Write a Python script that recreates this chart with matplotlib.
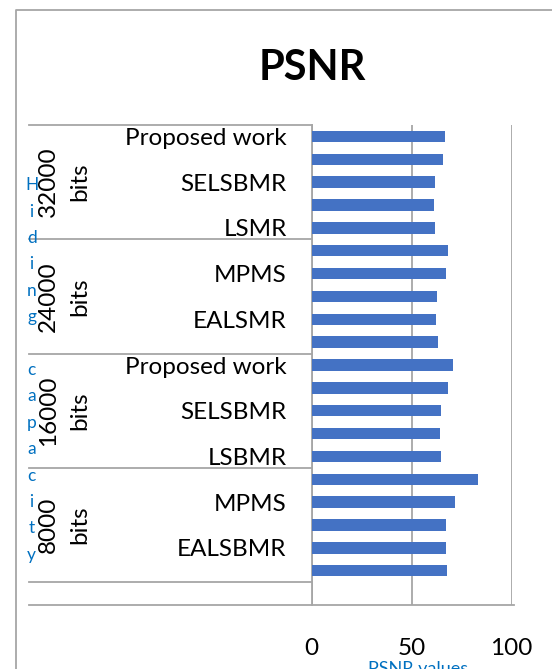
import numpy as np
import matplotlib
matplotlib.use("Agg")
import matplotlib.pyplot as plt
import matplotlib.transforms as mtransforms
from matplotlib.lines import Line2D

plt.rcParams['font.family'] = ['Lato', 'DejaVu Sans']

# Hiding capacity groups, bottom group first
groups = ["8000 bits", "16000 bits", "24000 bits", "32000 bits"]
# methods inside each group, bottom to top
methods = [
    ["LSBMR", "EALSBMR", "SELSBMR", "MPMS", "Proposed work"],
    ["LSBMR", "EALSBMR", "SELSBMR", "MPMS", "Proposed work"],
    ["LSMR", "EALSMR", "SELSBMR", "MPMS", "Proposed work"],
    ["LSMR", "EALSMR", "SELSBMR", "MPMS", "Proposed work"],
]
# PSNR values, same order as methods
psnr = [
    [67.5, 67.2, 67.2, 71.8, 83.0],
    [64.7, 64.2, 64.5, 68.0, 70.5],
    [63.0, 62.3, 62.8, 67.2, 68.3],
    [61.7, 61.0, 61.5, 65.8, 66.7],
]

BAR = '#4472C4'
GRID = '#A6A6A6'
BLUE = '#0070C0'
FS = 17.5

# one empty category at the bottom, then the grouped rows
labels = [""] + [m for grp in methods for m in grp]
values = [np.nan] + [v for grp in psnr for v in grp]
pos = np.arange(len(labels))

fig = plt.figure(figsize=(5.52, 6.69), dpi=100)
ax = fig.add_axes([311.7 / 552, 64 / 669, 200 / 552, 480 / 669])

ax.barh(pos, values, height=0.5, color=BAR, zorder=3)
ax.set_xlim(0, 100)
ax.set_ylim(-0.5, len(labels) - 0.5)
ax.set_xticks([0, 50, 100])
ax.xaxis.grid(True, color=GRID, linewidth=1.3, zorder=0)
ax.tick_params(axis='x', length=0, pad=24, labelsize=FS)

# only every other category label fits
ax.set_yticks(pos)
ax.set_yticklabels([lab if i % 2 == 0 else "" for i, lab in enumerate(labels)])
ax.tick_params(axis='y', length=0, pad=18, labelsize=FS)

for side in ['top', 'right', 'bottom']:
    ax.spines[side].set_visible(False)
ax.spines['left'].set_color(GRID)
ax.spines['left'].set_linewidth(1.3)

# group separators and the multi-level label area
blend = mtransforms.blended_transform_factory(ax.transAxes, ax.transData)
x_left = (29 - 311.7) / 200
for k in range(len(groups) + 1):
    y = 0.5 + 5 * k
    ax.plot([x_left, 0], [y, y], color=GRID, lw=1.3, transform=blend, clip_on=False)
ax.plot([x_left, 1.01], [-0.5, -0.5], color=GRID, lw=1.3, transform=blend, clip_on=False)

for k, g in enumerate(groups):
    ax.text((64 - 311.7) / 200, 3 + 5 * k, g.replace(" ", "\n"), transform=blend,
            rotation=90, ha='center', va='center', multialignment='center',
            fontsize=FS, linespacing=1.6)

# stacked axis titles
fig.text(31.7 / 552, 1 - 370 / 669, "\n".join("Hiding capacity"), color=BLUE,
         fontsize=12.5, ha='center', va='center', linespacing=1.8)
fig.text(418 / 552, 1 - 661 / 669, "PSNR values", color=BLUE, fontsize=13,
         ha='center', va='top')
fig.text(312 / 552, 1 - 68 / 669, "PSNR", fontsize=30, fontweight='bold',
         ha='center', va='center')

# chart border: only the left and top edges fall inside the image
bx, by = 16 / 552, 1 - 10 / 669
fig.lines.append(Line2D([bx, bx, 1.05], [-0.05, by, by], transform=fig.transFigure,
                        color=GRID, linewidth=1.3))

fig.savefig("out.png", dpi=100)
